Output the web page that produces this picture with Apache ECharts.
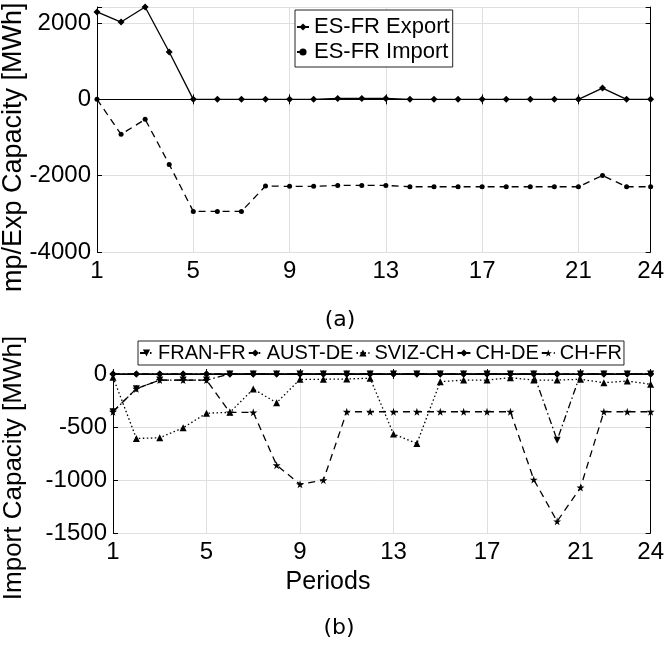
<!DOCTYPE html>
<html>
<head>
<meta charset="utf-8">
<script src="https://cdn.jsdelivr.net/npm/echarts@6/dist/echarts.min.js"></script>
<style>
  html, body { margin: 0; padding: 0; background: #ffffff; }
  #chart { width: 667px; height: 646px; }
</style>
</head>
<body>
<div id="chart"></div>
<script>
// Hourly periods and the ones that carry a tick label
const periods = ['1','2','3','4','5','6','7','8','9','10','11','12',
                 '13','14','15','16','17','18','19','20','21','22','23','24'];
const tickPeriods = ['1','5','9','13','17','21','24'];

// (a) Spain-France interconnection, MWh
const esfrExport = [2290, 2026, 2420, 1240, 0, 0, 0, 0, 0, 0, 25, 25,
                    25, 0, 0, 0, 0, 0, 0, 0, 0, 296, 0, 0];
const esfrImport = [0, -917, -524, -1704, -2936, -2936, -2936, -2272, -2280, -2280, -2255, -2255,
                    -2255, -2290, -2290, -2290, -2290, -2290, -2290, -2290, -2290, -1995, -2290, -2290];

// (b) import capacities, MWh
const franFR = [-356, -139, -57, -57, -57, 0, 0, 0, 0, 0, 0, 0,
                0, 0, 0, 0, 0, 0, 0, -624, 0, 0, 0, 0];
const austDE = [0, 0, 0, 0, 0, 0, 0, 0, 0, 0, 0, 0,
                0, 0, 0, 0, 0, 0, 0, 0, 0, 0, 0, 0];
const svizCH = [-30, -608, -602, -507, -370, -362, -142, -271, -50, -50, -47, -40,
                -567, -655, -73, -57, -57, -35, -57, -57, -50, -82, -66, -97];
const chDE   = [0, 0, 0, 0, 0, 0, 0, 0, 0, 0, 0, 0,
                0, 0, 0, 0, 0, 0, 0, 0, 0, 0, 0, 0];
const chFR   = [-356, -139, -57, -57, -57, -362, -362, -860, -1040, -1002, -356, -356,
                -356, -356, -356, -356, -356, -356, -996, -1390, -1071, -356, -356, -356];

// Axis tick values
const topYTicks = [-4000, -2000, 0, 2000];
const bottomYTicks = [-1500, -1000, -500, 0];

const FONT = 'Liberation Sans, Arial, Helvetica, sans-serif';
const CAPTION_FONT = 'DejaVu Sans, sans-serif';
const topMax = Math.max(...esfrExport);
const pentagram = 'path://M50,0 L61,35 L98,35 L68,57 L79,91 L50,70 L21,91 L32,57 L2,35 L39,35 Z';

const showTick = (i, v) => tickPeriods.includes(periods[i]);

function periodAxis(gridIndex, position, labels) {
  return {
    type: 'category', gridIndex, position, data: periods, boundaryGap: false,
    axisLine: { show: true, lineStyle: { color: '#000', width: 1 } },
    axisTick: { show: true, inside: true, length: 5, interval: showTick, lineStyle: { color: '#000' } },
    axisLabel: { show: labels, interval: showTick, color: '#000', fontFamily: FONT, fontSize: 24, margin: 7 },
    splitLine: { show: labels, interval: showTick, lineStyle: { color: '#dfdfdf', width: 1 } }
  };
}

function valueAxis(gridIndex, position, min, max, interval, ticks, labels) {
  return {
    type: 'value', gridIndex, position, min, max, interval,
    axisLine: { show: true, lineStyle: { color: '#000', width: 1 } },
    axisTick: { show: true, inside: true, length: 5, lineStyle: { color: '#000' } },
    axisLabel: {
      show: labels, color: '#000', fontFamily: FONT, fontSize: 24, margin: 6,
      formatter: v => ticks.includes(v) ? String(v) : ''
    },
    splitLine: { show: labels, lineStyle: { color: '#dfdfdf', width: 1 } }
  };
}

function lineSeries(name, data, xi, yi, symbol, size, dash, extra) {
  return Object.assign({
    name, type: 'line', data, xAxisIndex: xi, yAxisIndex: yi,
    symbol, symbolSize: size, showAllSymbol: true, clip: false,
    lineStyle: { color: '#000', width: 1.3, type: dash },
    itemStyle: { color: '#000', borderWidth: 0 },
    emphasis: { disabled: true }
  }, extra || {});
}

const chart = echarts.init(document.getElementById('chart'), null, { renderer: 'canvas' });

chart.setOption({
  animation: false,
  backgroundColor: '#ffffff',
  grid: [
    { left: 97, top: 7, width: 555, height: 245, show: false },
    { left: 113, top: 374, width: 540, height: 159, show: false }
  ],
  xAxis: [
    periodAxis(0, 'bottom', true),
    periodAxis(0, 'top', false),
    periodAxis(1, 'bottom', true),
    periodAxis(1, 'top', false)
  ],
  yAxis: [
    valueAxis(0, 'left', -4000, topMax, 2000, topYTicks, true),
    valueAxis(0, 'right', -4000, topMax, 2000, topYTicks, false),
    valueAxis(1, 'left', -1500, 0, 500, bottomYTicks, true),
    valueAxis(1, 'right', -1500, 0, 500, bottomYTicks, false)
  ],
  legend: [
    {
      data: ['ES-FR Export', 'ES-FR Import'],
      orient: 'vertical', left: 295, top: 10,
      itemWidth: 12, itemHeight: 9, itemGap: 3,
      padding: [6, 3, 4, 1],
      backgroundColor: '#fff', borderColor: '#222', borderWidth: 1, borderRadius: 0,
      textStyle: { color: '#000', fontFamily: FONT, fontSize: 22 },
      selectedMode: false
    },
    {
      data: ['FRAN-FR', 'AUST-DE', 'SVIZ-CH', 'CH-DE', 'CH-FR'],
      orient: 'horizontal', left: 138, top: 341,
      itemWidth: 13, itemHeight: 9, itemGap: 2,
      padding: [2, 2, 2, 1],
      backgroundColor: '#fff', borderColor: '#222', borderWidth: 1, borderRadius: 0,
      textStyle: { color: '#000', fontFamily: FONT, fontSize: 20 },
      selectedMode: false
    }
  ],
  series: [
    lineSeries('ES-FR Export', esfrExport, 0, 0, 'diamond', 7, 'solid'),
    lineSeries('ES-FR Import', esfrImport, 0, 0, 'circle', 5, [7, 5]),
    lineSeries('AUST-DE', austDE, 2, 2, 'diamond', 7, [7, 3, 1.5, 3]),
    lineSeries('SVIZ-CH', svizCH, 2, 2, 'triangle', 7, [1.5, 2.5]),
    lineSeries('CH-DE', chDE, 2, 2, 'diamond', 7, 'solid'),
    lineSeries('CH-FR', chFR, 2, 2, pentagram, 8, [7, 5]),
    lineSeries('FRAN-FR', franFR, 2, 2, 'triangle', 7, [7, 3, 1.5, 3], { symbolRotate: 180, z: 3 })
  ],
  graphic: [
    {
      type: 'text', x: 14, y: 151, rotation: Math.PI / 2, z: 10,
      style: { text: 'Imp/Exp Capacity [MWh]', font: '27px ' + FONT, fill: '#000',
               textAlign: 'center', textVerticalAlign: 'middle' }
    },
    { type: 'rect', shape: { x: 0, y: 292, width: 40, height: 40 }, style: { fill: '#fff' }, z: 11 },
    {
      type: 'text', x: 14, y: 468, rotation: Math.PI / 2, z: 10,
      style: { text: 'Import Capacity [MWh]', font: '26px ' + FONT, fill: '#000',
               textAlign: 'center', textVerticalAlign: 'middle' }
    },
    {
      type: 'text', x: 340, y: 320, z: 10,
      style: { text: '(a)', font: '22px ' + CAPTION_FONT, fill: '#000',
               textAlign: 'center', textVerticalAlign: 'middle' }
    },
    {
      type: 'text', x: 328, y: 582, z: 10,
      style: { text: 'Periods', font: '25px ' + FONT, fill: '#000',
               textAlign: 'center', textVerticalAlign: 'middle' }
    },
    {
      type: 'text', x: 339, y: 628, z: 10,
      style: { text: '(b)', font: '22px ' + CAPTION_FONT, fill: '#000',
               textAlign: 'center', textVerticalAlign: 'middle' }
    }
  ]
});
</script>
</body>
</html>
